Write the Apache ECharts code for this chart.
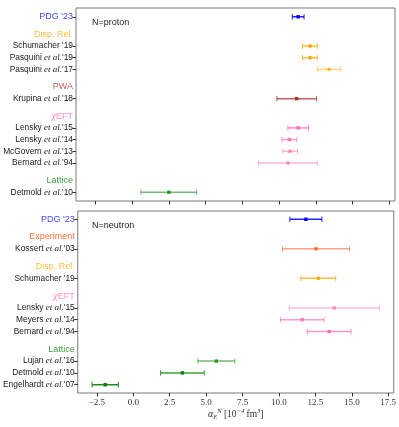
<!DOCTYPE html>
<html>
<head>
<meta charset="utf-8">
<script src="https://cdn.jsdelivr.net/npm/echarts@6/dist/echarts.min.js"></script>
<style>
  html, body { margin: 0; padding: 0; background: #fff; }
  #chart { width: 399px; height: 427px; }
</style>
</head>
<body>
<div id="chart"></div>
<script>
// proton panel
var protonRefs = ["PDG '23", "Schumacher '19", "Pasquini et al.'19", "Pasquini et al.'17", "Krupina et al.'18",
    "Lensky et al.'15", "Lensky et al.'14", "McGovern et al.'13", "Bernard et al.'94", "Detmold et al.'10"];
var protonGroup = ['PDG', 'Disp', 'Disp', 'Disp', 'PWA', 'EFT', 'EFT', 'EFT', 'EFT', 'Lattice'];
var protonValue = [11.3, 12.1, 12.1, 13.4, 11.2, 11.3, 10.7, 10.75, 10.6, 2.5];
var protonError = [0.4, 0.5, 0.5, 0.8, 1.35, 0.7, 0.5, 0.5, 2.0, 1.9];

// neutron panel
var neutronRefs = ["PDG '23", "Kossert et al.'03", "Schumacher '19", "Lensky et al.'15", "Meyers et al.'14",
    "Bernard et al.'94", "Lujan et al.'16", "Detmold et al.'10", "Engelhardt et al.'07"];
var neutronGroup = ['PDG', 'Exp', 'Disp', 'EFT', 'EFT', 'EFT', 'Lattice', 'Lattice', 'Lattice'];
var neutronValue = [11.85, 12.55, 12.7, 13.8, 11.6, 13.45, 5.7, 3.37, -1.93];
var neutronError = [1.1, 2.3, 1.2, 3.1, 1.5, 1.5, 1.27, 1.5, 0.9];

var groupNames = { Disp: 'Disp. Rel.', PWA: 'PWA', EFT: '\u03c7EFT', Lattice: 'Lattice', Exp: 'Experiment' };
var xTicks = [-2.5, 0, 2.5, 5, 7.5, 10, 12.5, 15, 17.5];

// look
var groupColor = { PDG: '0,0,255', Disp: '255,165,0', PWA: '165,42,42', EFT: '255,105,180', Lattice: '0,128,0', Exp: '255,69,0' };
var protonAlpha = [0.85, 0.75, 0.75, 0.5, 0.75, 0.75, 0.65, 0.5, 0.5, 0.55];
var neutronAlpha = [0.85, 0.5, 0.75, 0.45, 0.65, 0.7, 0.55, 0.75, 0.9];

// rows: a new group gets a header 1.5 below, entries follow one apart
function layout(groups) {
    var pos = [], heads = [], y = 0, prev = null;
    groups.forEach(function (g, i) {
        if (i === 0) { pos.push(0); prev = g; return; }
        if (g !== prev) { y += 1.5; heads.push({ g: g, y: y }); y += 1; }
        else { y += 1; }
        pos.push(y);
        prev = g;
    });
    return { pos: pos, heads: heads };
}

var pl = layout(protonGroup);
var nl = layout(neutronGroup);

var allLo = protonValue.map(function (v, i) { return v - protonError[i]; })
    .concat(neutronValue.map(function (v, i) { return v - neutronError[i]; }));
var allHi = protonValue.map(function (v, i) { return v + protonError[i]; })
    .concat(neutronValue.map(function (v, i) { return v + neutronError[i]; }));
var xLo = Math.min.apply(null, allLo), xHi = Math.max.apply(null, allHi);
var xPad = (xHi - xLo) * 0.05;

var FONT = 'Liberation Sans';
var rich = {
    n: { fontFamily: FONT, fontSize: 8.4, color: '#1a1a1a' },
    i: { fontFamily: 'Liberation Serif', fontStyle: 'italic', fontSize: 9, color: '#1a1a1a' },
    chi: { fontFamily: 'Liberation Serif', fontStyle: 'italic', fontSize: 10.5, color: 'rgba(255,105,180,0.8)' }
};
Object.keys(groupColor).forEach(function (g) {
    rich['h' + g] = { fontFamily: FONT, fontSize: 9, color: 'rgba(' + groupColor[g] + ',0.75)' };
});

function refText(name, g) {
    var st = g === 'PDG' ? 'hPDG' : 'n';
    var k = name.indexOf(' et al.');
    if (k < 0) return '{' + st + '|' + name + '}';
    return '{' + st + '|' + name.slice(0, k + 1) + '}{i|et al.}{' + st + '|' + name.slice(k + 7) + '}';
}

function headText(g) {
    if (g === 'EFT') return '{chi|\u03c7}{hEFT|EFT}';
    return '{h' + g + '|' + groupNames[g] + '}';
}

function yAxisFor(refs, groups, lay, idx) {
    var last = lay.pos[lay.pos.length - 1];
    var labelMap = {};
    lay.pos.forEach(function (p, i) { labelMap[p] = refText(refs[i], groups[i]); });
    lay.heads.forEach(function (h) { labelMap[h.y] = headText(h.g); });
    return {
        type: 'value', gridIndex: idx, inverse: true,
        min: -0.05 * last, max: last * 1.05,
        splitLine: { show: false },
        axisLine: { show: false, onZero: false },
        axisTick: { show: true, customValues: lay.pos, length: 3.5, lineStyle: { color: '#333' } },
        axisLabel: {
            customValues: Object.keys(labelMap).map(Number),
            margin: 3,
            formatter: function (v) { return labelMap[v] || ''; },
            rich: rich
        }
    };
}

function xAxisFor(idx, labels) {
    return {
        type: 'value', gridIndex: idx, position: 'bottom',
        min: xLo - xPad, max: xHi + xPad,
        splitLine: { show: false },
        axisLine: { show: false, onZero: false },
        axisTick: { show: true, customValues: xTicks, length: 3.5, lineStyle: { color: '#333' } },
        axisLabel: {
            show: labels,
            customValues: xTicks,
            margin: 5,
            fontFamily: 'Liberation Serif', fontSize: 9, color: '#333',
            formatter: function (v) { return (v < 0 ? '\u2212' : '') + Math.abs(v).toFixed(1); }
        },
        name: labels ? '{a|\u03b1}{s|E}{p|N}{b| [10}{p|\u22124}{b| fm}{p|3}{b|]}' : '',
        nameLocation: 'middle',
        nameGap: 15,
        nameTextStyle: {
            rich: {
                a: { fontFamily: 'Liberation Serif', fontStyle: 'italic', fontSize: 10, color: '#333' },
                s: { fontFamily: 'Liberation Serif', fontStyle: 'italic', fontSize: 6.5, color: '#333', padding: [5, 0, 0, 0] },
                p: { fontFamily: 'Liberation Serif', fontStyle: 'italic', fontSize: 6.5, color: '#333', padding: [0, 0, 6, 0] },
                b: { fontFamily: 'Liberation Serif', fontSize: 9.5, color: '#333' }
            }
        }
    };
}

function errSeries(values, errors, groups, alphas, lay, idx) {
    var data = values.map(function (v, i) { return [v, lay.pos[i], errors[i]]; });
    return {
        type: 'custom', xAxisIndex: idx, yAxisIndex: idx,
        encode: { x: 0, y: 1 },
        data: data,
        renderItem: function (params, api) {
            var i = params.dataIndex;
            var v = api.value(0), y = api.value(1), e = api.value(2);
            var c = api.coord([v, y]);
            var l = api.coord([v - e, y]);
            var r = api.coord([v + e, y]);
            var rgb = groupColor[groups[i]];
            var col = 'rgba(' + rgb + ',' + alphas[i] + ')';
            var dot = 'rgba(' + rgb + ',' + Math.min(1, alphas[i] + 0.2) + ')';
            var st = { stroke: col, lineWidth: 1.5 };
            return {
                type: 'group',
                children: [
                    { type: 'line', shape: { x1: l[0], y1: c[1], x2: r[0], y2: c[1] }, style: st },
                    { type: 'line', shape: { x1: l[0], y1: c[1] - 2.8, x2: l[0], y2: c[1] + 2.8 }, style: { stroke: col, lineWidth: 1 } },
                    { type: 'line', shape: { x1: r[0], y1: c[1] - 2.8, x2: r[0], y2: c[1] + 2.8 }, style: { stroke: col, lineWidth: 1 } },
                    { type: 'rect', shape: { x: c[0] - 1.7, y: c[1] - 1.7, width: 3.4, height: 3.4 }, style: { fill: dot } }
                ]
            };
        }
    };
}

var chart = echarts.init(document.getElementById('chart'), null, { renderer: 'canvas' });
chart.setOption({
    animation: false,
    backgroundColor: '#fff',
    grid: [
        { left: 76, top: 8, width: 319, height: 193, show: true, borderColor: '#7a7a7a', borderWidth: 1 },
        { left: 76, top: 211, width: 319, height: 182, show: true, borderColor: '#7a7a7a', borderWidth: 1 }
    ],
    xAxis: [xAxisFor(0, false), xAxisFor(1, true)],
    yAxis: [
        yAxisFor(protonRefs, protonGroup, pl, 0),
        yAxisFor(neutronRefs, neutronGroup, nl, 1)
    ],
    graphic: [
        { type: 'text', left: 92, top: 18, style: { text: 'N=proton', fontFamily: FONT, fontSize: 9, fill: '#222' } },
        { type: 'text', left: 92, top: 221, style: { text: 'N=neutron', fontFamily: FONT, fontSize: 9, fill: '#222' } }
    ],
    series: [
        errSeries(protonValue, protonError, protonGroup, protonAlpha, pl, 0),
        errSeries(neutronValue, neutronError, neutronGroup, neutronAlpha, nl, 1)
    ]
});
</script>
</body>
</html>
